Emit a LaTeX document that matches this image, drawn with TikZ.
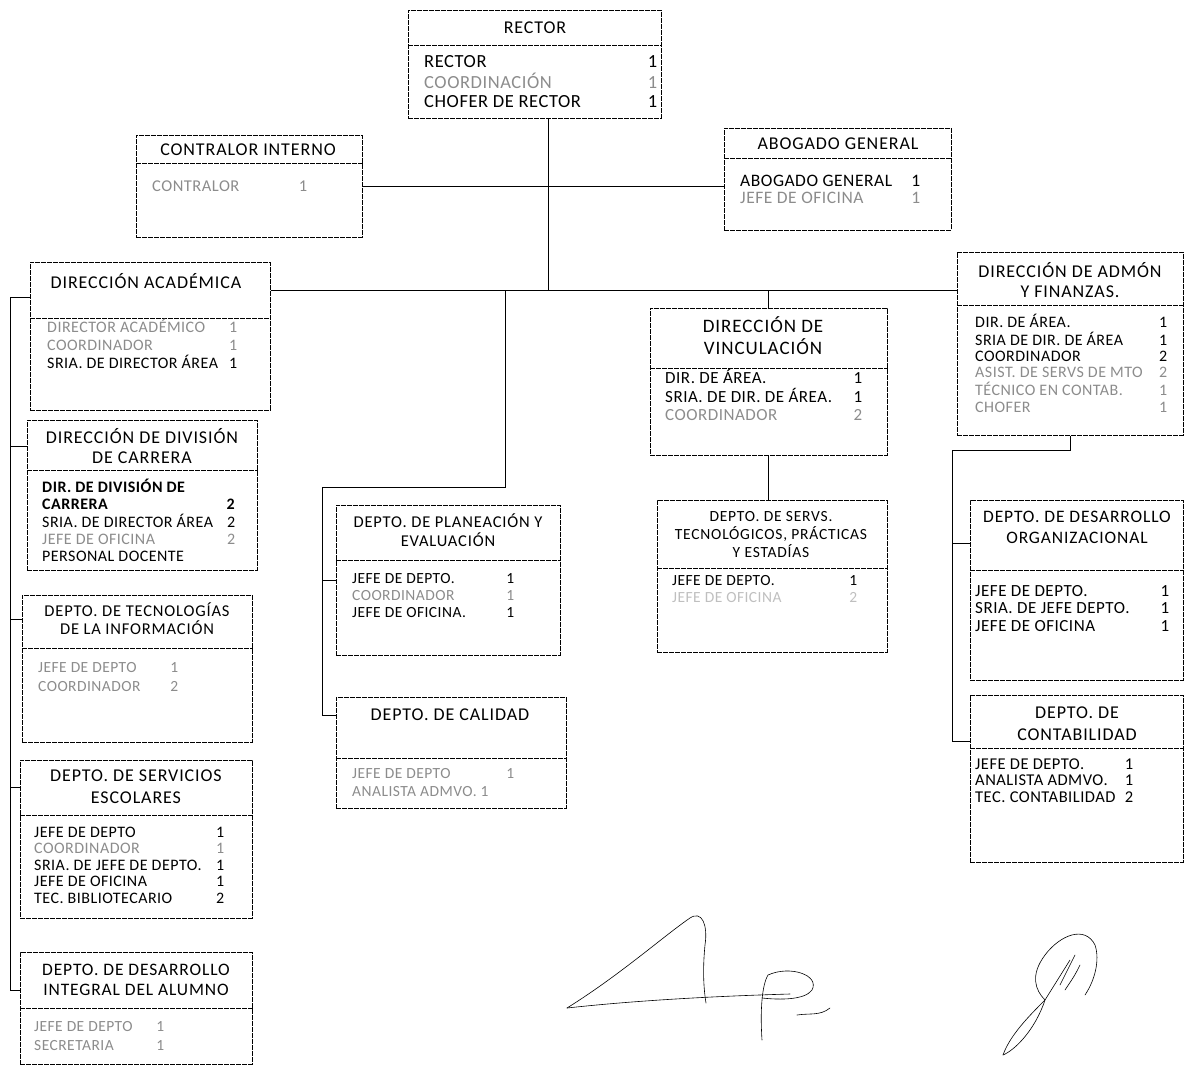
\documentclass[tikz,border=0pt]{standalone}
\usepackage{fontspec}
\setmainfont{Carlito}[LetterSpace=3]
\newfontfamily\headfont{Carlito}[LetterSpace=5]
\newcommand{\gr}[1]{\textcolor{black!45}{#1}}
\newcommand{\rows}[2]{\begin{tabular*}{#1}[t]{@{}l@{\extracolsep{\fill}}r@{}}#2\end{tabular*}}

\begin{document}
\begin{tikzpicture}[x=1pt, y=-1pt,
    box/.style={draw, line width=0.7pt, dash pattern=on 5pt off 1pt, anchor=north west, inner sep=0pt},
    sep/.style={line width=0.7pt, dash pattern=on 5pt off 1pt},
    head/.style={align=center, inner sep=0pt, font=\headfont\fontsize{18}{20}\selectfont},
    body/.style={anchor=base west, inner sep=0pt},
    link/.style={line width=0.8pt},
    sig/.style={line width=0.6pt, line cap=round, line join=round}]
    \useasboundingbox (0,0) rectangle (1184,1066);

    % rector
    \node[box, minimum width=253, minimum height=108] (rector) at (408,10) {};
    \draw[sep] (rector.west |- 0,45) -- (rector.east |- 0,45);
    \node[head] (rector-h) at (535,28) {RECTOR};
    \node[body, font=\fontsize{18.5}{19.5}\selectfont] (rector-b) at (424,67)
        {\rows{233pt}{RECTOR & 1\\ \gr{COORDINACIÓN} & \gr{1}\\ CHOFER DE RECTOR & 1}};

    % contralor interno
    \node[box, minimum width=226, minimum height=102] (contralor) at (136,135) {};
    \draw[sep] (contralor.west |- 0,163) -- (contralor.east |- 0,163);
    \node[head] (contralor-h) at (248,150) {CONTRALOR INTERNO};
    \node[body, font=\fontsize{16.5}{18}\selectfont] (contralor-b) at (152,191)
        {\rows{155pt}{\gr{CONTRALOR} & \gr{1}}};

    % abogado general
    \node[box, minimum width=227, minimum height=102] (abogado) at (724,128) {};
    \draw[sep] (abogado.west |- 0,158) -- (abogado.east |- 0,158);
    \node[head] (abogado-h) at (838,144) {ABOGADO GENERAL};
    \node[body, font=\fontsize{17.5}{17}\selectfont] (abogado-b) at (740,186)
        {\rows{180pt}{ABOGADO GENERAL & 1\\ \gr{JEFE DE OFICINA} & \gr{1}}};

    % direccion academica
    \node[box, minimum width=240, minimum height=148] (academica) at (30,262) {};
    \draw[sep] (academica.west |- 0,318) -- (academica.east |- 0,318);
    \node[head] (academica-h) at (146,281) {DIRECCIÓN ACADÉMICA};
    \node[body, font=\fontsize{16}{18}\selectfont] (academica-b) at (47,332)
        {\rows{190pt}{\gr{DIRECTOR ACADÉMICO} & \gr{1}\\ \gr{COORDINADOR} & \gr{1}\\ SRIA. DE DIRECTOR ÁREA & 1}};

    % division de carrera
    \node[box, minimum width=230, minimum height=150] (division) at (27,420) {};
    \draw[sep] (division.west |- 0,470) -- (division.east |- 0,470);
    \node[head] (division-h) at (142,446) {DIRECCIÓN DE DIVISIÓN\\DE CARRERA};
    \node[body, font=\fontsize{16}{17}\selectfont] (division-b) at (42,492)
        {\rows{193pt}{\textbf{DIR. DE DIVISIÓN DE} & \\ \textbf{CARRERA} & \textbf{2}\\ SRIA. DE DIRECTOR ÁREA & 2\\ \gr{JEFE DE OFICINA} & \gr{2}\\ PERSONAL DOCENTE & }};

    % tecnologias de la informacion
    \node[box, minimum width=230, minimum height=147] (ti) at (22,595) {};
    \draw[sep] (ti.west |- 0,648) -- (ti.east |- 0,648);
    \node[head, font=\headfont\fontsize{16.5}{18}\selectfont] (ti-h) at (137,619) {DEPTO. DE TECNOLOGÍAS\\DE LA INFORMACIÓN};
    \node[body, font=\fontsize{15.5}{19}\selectfont] (ti-b) at (38,672)
        {\rows{140pt}{\gr{JEFE DE DEPTO} & \gr{1}\\ \gr{COORDINADOR} & \gr{2}}};

    % servicios escolares
    \node[box, minimum width=232, minimum height=158] (escolares) at (20,760) {};
    \draw[sep] (escolares.west |- 0,815) -- (escolares.east |- 0,815);
    \node[head, font=\headfont\fontsize{18}{22}\selectfont] (escolares-h) at (136,787) {DEPTO. DE SERVICIOS\\ESCOLARES};
    \node[body, font=\fontsize{16}{16.5}\selectfont] (escolares-b) at (34,837)
        {\rows{190pt}{JEFE DE DEPTO & 1\\ \gr{COORDINADOR} & \gr{1}\\ SRIA. DE JEFE DE DEPTO. & 1\\ JEFE DE OFICINA & 1\\ TEC. BIBLIOTECARIO & 2}};

    % desarrollo integral del alumno
    \node[box, minimum width=232, minimum height=112] (alumno) at (20,952) {};
    \draw[sep] (alumno.west |- 0,1008) -- (alumno.east |- 0,1008);
    \node[head, font=\headfont\fontsize{17.5}{20}\selectfont] (alumno-h) at (136,980) {DEPTO. DE DESARROLLO\\INTEGRAL DEL ALUMNO};
    \node[body, font=\fontsize{15.5}{19}\selectfont] (alumno-b) at (34,1031)
        {\rows{130pt}{\gr{JEFE DE DEPTO} & \gr{1}\\ \gr{SECRETARIA} & \gr{1}}};

    % planeacion y evaluacion
    \node[box, minimum width=224, minimum height=150] (planeacion) at (336,505) {};
    \draw[sep] (planeacion.west |- 0,560) -- (planeacion.east |- 0,560);
    \node[head, font=\headfont\fontsize{16.5}{19}\selectfont] (planeacion-h) at (448,530) {DEPTO. DE PLANEACIÓN Y\\EVALUACIÓN};
    \node[body, font=\fontsize{15.5}{17}\selectfont] (planeacion-b) at (352,583)
        {\rows{162pt}{JEFE DE DEPTO. & 1\\ \gr{COORDINADOR} & \gr{1}\\ JEFE DE OFICINA. & 1}};

    % calidad
    \node[box, minimum width=230, minimum height=111] (calidad) at (336,697) {};
    \draw[sep] (calidad.west |- 0,758) -- (calidad.east |- 0,758);
    \node[head] (calidad-h) at (450,715) {DEPTO. DE CALIDAD};
    \node[body, font=\fontsize{15.5}{18}\selectfont] (calidad-b) at (352,778)
        {\rows{162pt}{\gr{JEFE DE DEPTO} & \gr{1}\\ \gr{ANALISTA ADMVO. 1} & }};

    % vinculacion
    \node[box, minimum width=237, minimum height=147] (vinculacion) at (650,308) {};
    \draw[sep] (vinculacion.west |- 0,368) -- (vinculacion.east |- 0,368);
    \node[head, font=\headfont\fontsize{19}{22}\selectfont] (vinculacion-h) at (763,336) {DIRECCIÓN DE\\VINCULACIÓN};
    \node[body, font=\fontsize{17}{18}\selectfont] (vinculacion-b) at (665,383)
        {\rows{197pt}{DIR. DE ÁREA. & 1\\ SRIA. DE DIR. DE ÁREA. & 1\\ \gr{COORDINADOR} & \gr{2}}};

    % servs. tecnologicos
    \node[box, minimum width=230, minimum height=152] (servs) at (657,500) {};
    \draw[sep] (servs.west |- 0,568) -- (servs.east |- 0,568);
    \node[head, font=\headfont\fontsize{15.5}{18}\selectfont] (servs-h) at (771,535) {DEPTO. DE SERVS.\\TECNOLÓGICOS, PRÁCTICAS\\Y ESTADÍAS};
    \node[body, font=\fontsize{15.5}{17}\selectfont] (servs-b) at (672,585)
        {\rows{185pt}{JEFE DE DEPTO. & 1\\ \textcolor{black!25}{JEFE DE OFICINA} & \textcolor{black!25}{2}}};

    % admon y finanzas
    \node[box, minimum width=226, minimum height=183] (admon) at (957,252) {};
    \draw[sep] (admon.west |- 0,305) -- (admon.east |- 0,305);
    \node[head] (admon-h) at (1070,280) {DIRECCIÓN DE ADMÓN\\Y FINANZAS.};
    \node[body, font=\fontsize{16}{16.2}\selectfont] (admon-b) at (975,327)
        {\rows{192pt}{DIR. DE ÁREA. & 1\\ SRIA DE DIR. DE ÁREA & 1\\ COORDINADOR & 2\\ \gr{ASIST. DE SERVS DE MTO} & \gr{2}\\ \gr{TÉCNICO EN CONTAB.} & \gr{1}\\ \gr{CHOFER} & \gr{1}}};

    % desarrollo organizacional
    \node[box, minimum width=213, minimum height=180] (desorg) at (970,500) {};
    \draw[sep] (desorg.west |- 0,570) -- (desorg.east |- 0,570);
    \node[head, font=\headfont\fontsize{17.5}{21}\selectfont] (desorg-h) at (1077,527) {DEPTO. DE DESARROLLO\\ORGANIZACIONAL};
    \node[body, font=\fontsize{17}{17.5}\selectfont] (desorg-b) at (975,596)
        {\rows{194pt}{JEFE DE DEPTO. & 1\\ SRIA. DE JEFE DEPTO. & 1\\ JEFE DE OFICINA & 1}};

    % contabilidad
    \node[box, minimum width=213, minimum height=167] (contab) at (970,695) {};
    \draw[sep] (contab.west |- 0,748) -- (contab.east |- 0,748);
    \node[head, font=\headfont\fontsize{18}{22}\selectfont] (contab-h) at (1077,724) {DEPTO. DE\\CONTABILIDAD};
    \node[body, font=\fontsize{16.5}{16.5}\selectfont] (contab-b) at (975,769)
        {\rows{158pt}{JEFE DE DEPTO. & 1\\ ANALISTA ADMVO. & 1\\ TEC. CONTABILIDAD & 2}};

    % connectors
    \coordinate (j1) at (548,290);
    \coordinate (j2) at (505,290);
    \coordinate (j3) at (505,487);
    \coordinate (j4) at (322,487);
    \coordinate (k2) at (952,450);
    \coordinate (l1) at (10,297);
    \coordinate (l2) at (10,990);

    \draw[link] (rector.south -| j1) -- (j1);
    \draw[link] (contralor.east) -- (contralor.east -| abogado.west);
    \draw[link] (academica.east |- j1) -- (j1 -| admon.west);
    \draw[link] (j2) -- (j3) -- (j4) |- (calidad.west |- calidad-h);
    \draw[link] (j4 |- planeacion.west) -- (planeacion.west);
    \draw[link] (vinculacion.north |- j1) -- (vinculacion.north);
    \draw[link] (vinculacion.south) -- (vinculacion.south |- servs.north);
    \draw[link] (admon.south) |- (k2) |- (contab.west |- contab-h.south);
    \draw[link] (k2 |- desorg-h.south) -- (desorg.west |- desorg-h.south);
    \draw[link] (academica.west |- l1) -- (l1) -- (l2) -- (l2 -| alumno.west);
    \foreach \n in {division, ti, escolares}
        \draw[link] (l1 |- \n-h) -- (\n.west |- \n-h);

    % signatures
    \draw[sig] (567,1008) .. controls (620,975) and (665,935) .. (690,918)
        .. controls (702,910) and (708,925) .. (705,945)
        .. controls (703,965) and (703,985) .. (706,1003);
    \draw[sig] (567,1008) .. controls (640,1000) and (720,996) .. (790,994);
    \draw[sig] (762,1040) .. controls (760,1010) and (762,985) .. (768,975)
        .. controls (790,965) and (820,975) .. (812,990)
        .. controls (805,1000) and (780,1000) .. (762,998);
    \draw[sig] (797,1015) .. controls (810,1013) and (820,1016) .. (830,1008);
    \draw[sig] (1003,1055) .. controls (1010,1035) and (1030,1015) .. (1045,1000)
        .. controls (1035,990) and (1030,975) .. (1045,955)
        .. controls (1060,935) and (1085,925) .. (1095,945)
        .. controls (1100,960) and (1095,980) .. (1085,995);
    \draw[sig] (1003,1055) .. controls (1015,1050) and (1035,1030) .. (1045,1000) -- (1070,960);
    \draw[sig] (1060,985) -- (1075,955) (1065,990) .. controls (1075,975) .. (1080,965);
\end{tikzpicture}
\end{document}
